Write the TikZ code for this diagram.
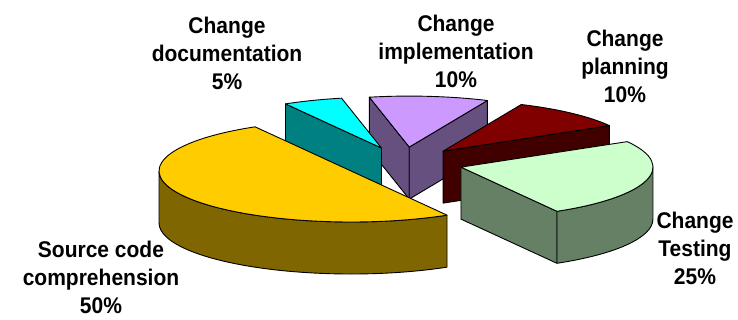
\documentclass[tikz,border=0pt]{standalone}
\usepackage{fontspec}
\setmainfont{Liberation Sans}
\definecolor{srctop}{HTML}{FFCC00}
\definecolor{srcside}{HTML}{806600}
\definecolor{doctop}{HTML}{00FFFF}
\definecolor{docside}{HTML}{008080}
\definecolor{impltop}{HTML}{CC99FF}
\definecolor{implside}{HTML}{665080}
\definecolor{plantop}{HTML}{800000}
\definecolor{planside}{HTML}{400000}
\definecolor{testtop}{HTML}{CCFFCC}
\definecolor{testside}{HTML}{668066}
\tikzset{face/.style={draw=black, fill=#1, line width=0.9pt, line join=round},
  lbl/.style={align=center, inner sep=0pt, transform shape, yscale=1.08,
    font=\fontsize{21}{26}\selectfont\bfseries}}

\begin{document}
\begin{tikzpicture}[x=1pt,y=1pt]
  \useasboundingbox (0,0) rectangle (738,320);
  % implementation 10%
  \begin{scope}[shift={({403+60*cos(84)},{157+16*sin(84)})}]
    \draw[face=implside] (0,0) -- ({192*cos(102)},{51*sin(102)}) -- ++(0,-52) -- (0,-52) -- cycle;
    \draw[face=implside] (0,0) -- ({192*cos(66)},{51*sin(66)}) -- ++(0,-52) -- (0,-52) -- cycle;
    \draw[face=impltop] (0,0) -- ({192*cos(66)},{51*sin(66)})
      arc[start angle=66, end angle=102, x radius=192pt, y radius=51pt] -- cycle;
  \end{scope}
  % documentation 5%
  \begin{scope}[shift={({403+60*cos(111)},{157+16*sin(111)})}]
    \draw[face=docside] (0,0) -- ({192*cos(120)},{51*sin(120)}) -- ++(0,-52) -- (0,-52) -- cycle;
    \draw[face=doctop] (0,0) -- ({192*cos(102)},{51*sin(102)})
      arc[start angle=102, end angle=120, x radius=192pt, y radius=51pt] -- cycle;
  \end{scope}
  % planning 10%
  \begin{scope}[shift={({403+60*cos(48)},{157+16*sin(48)})}]
    \draw[face=planside] (0,0) -- ({192*cos(30)},{51*sin(30)}) -- ++(0,-52) -- (0,-52) -- cycle;
    \draw[face=plantop] (0,0) -- ({192*cos(30)},{51*sin(30)})
      arc[start angle=30, end angle=66, x radius=192pt, y radius=51pt] -- cycle;
  \end{scope}
  % testing 25%
  \begin{scope}[shift={({403+60*cos(-15)},{157+16*sin(-15)})}]
    \draw[face=testside] (0,0) -- ({192*cos(-60)},{51*sin(-60)}) -- ++(0,-52) -- (0,-52) -- cycle;
    \draw[face=testside] ({192*cos(-60)},{51*sin(-60)})
      arc[start angle=-60, end angle=0, x radius=192pt, y radius=51pt] -- ++(0,-52)
      arc[start angle=0, end angle=-60, x radius=192pt, y radius=51pt] -- cycle;
    \draw[face=testtop] (0,0) -- ({192*cos(-60)},{51*sin(-60)})
      arc[start angle=-60, end angle=30, x radius=192pt, y radius=51pt] -- cycle;
  \end{scope}
  % source code comprehension 50%
  \begin{scope}[shift={({403+60*cos(210)},{157+16*sin(210)})}]
    \draw[face=srcside] (-192,0)
      arc[start angle=180, end angle=300, x radius=192pt, y radius=51pt] -- ++(0,-52)
      arc[start angle=300, end angle=180, x radius=192pt, y radius=51pt] -- cycle;
    \draw[face=srctop] ({192*cos(120)},{51*sin(120)})
      arc[start angle=120, end angle=300, x radius=192pt, y radius=51pt] -- cycle;
  \end{scope}
  % labels
  \node[lbl] (doc)  at (227,267) {Change\\documentation\\5\%};
  \node[lbl] (impl) at (456,269) {Change\\implementation\\10\%};
  \node[lbl] (plan) at (625,254) {Change\\planning\\10\%};
  \node[lbl] (src)  at (101,43)  {Source code\\comprehension\\50\%};
  \node[lbl] (test) at (695,72)  {Change\\Testing\\25\%};
\end{tikzpicture}
\end{document}
